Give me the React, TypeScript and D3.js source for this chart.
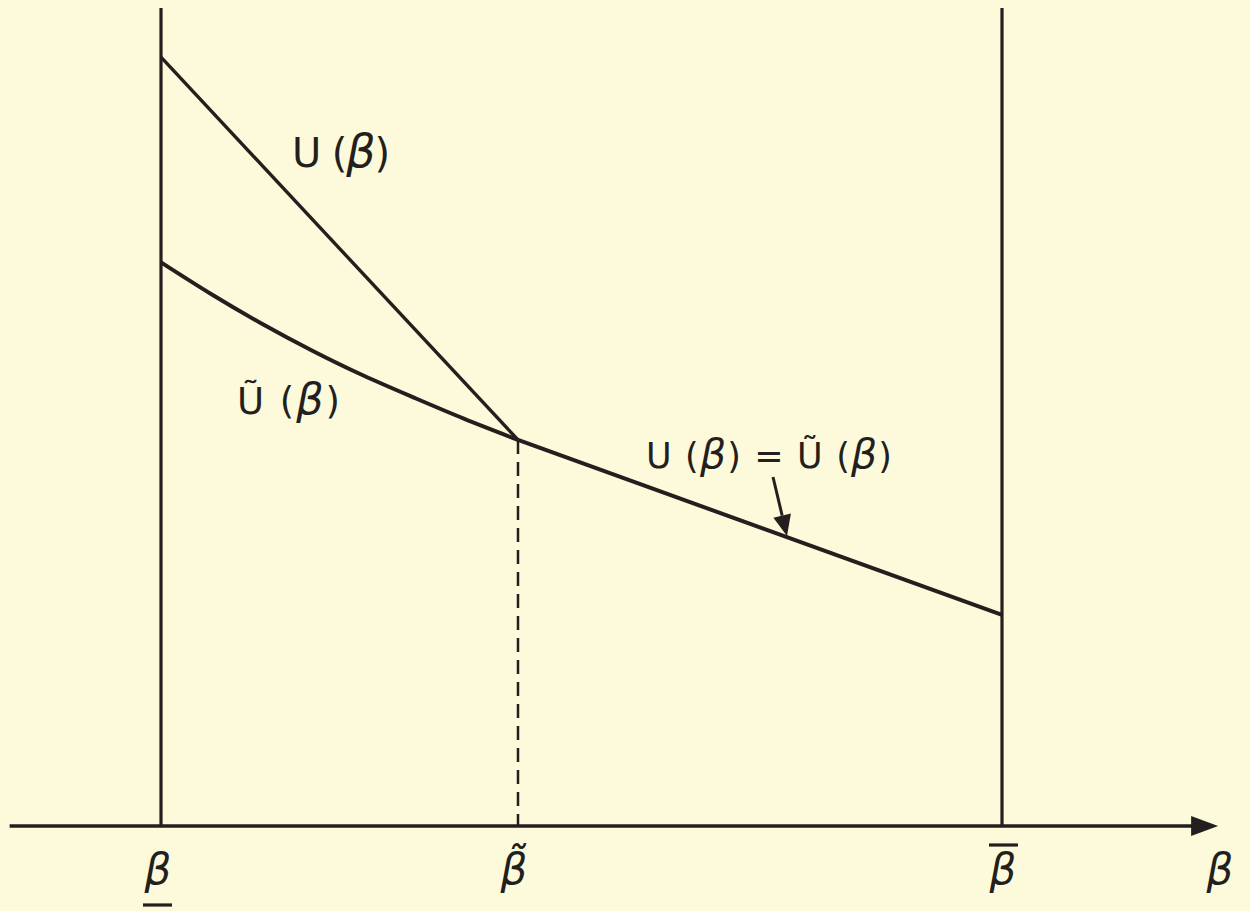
import React from "react";
import * as d3 from "d3";

// beta runs from the lower bound (0) to the upper bound (1)
const betaLow = 0;
const betaHigh = 1;
const betaTilde = 0.4245;

// U(beta): straight line from the lower bound to beta-tilde
const uBeta = [0, 0.4245];
const uValue = [0.94, 0.472];

// U-tilde(beta): convex curve up to beta-tilde, then straight to the upper bound
const uTildeBeta = [0, 0.06, 0.12, 0.18, 0.24, 0.3, 0.36, 0.4245];
const uTildeValue = [0.689, 0.65, 0.614, 0.581, 0.551, 0.524, 0.498, 0.472];
const tailBeta = [0.4245, 1];
const tailValue = [0.472, 0.258];

const W = 1250;
const H = 911;
const ink = "#231f1e";
const bg = "#fdfadb";
const font = "'DejaVu Sans', sans-serif";

const App = () => {
  const x = d3.scaleLinear().domain([betaLow, betaHigh]).range([161, 1002]);
  const y = d3.scaleLinear().domain([0, 1]).range([826, 8]);

  const toPts = (xs: number[], ys: number[]) => xs.map((b, i) => [b, ys[i]] as [number, number]);

  const curve = d3
    .line<[number, number]>()
    .x((d) => x(d[0]))
    .y((d) => y(d[1]))
    .curve(d3.curveNatural);
  const straight = d3
    .line<[number, number]>()
    .x((d) => x(d[0]))
    .y((d) => y(d[1]));

  const axisY = y(0);
  const axisStart = x(-0.18);
  const axisEnd = x(1.257);

  // arrow pointing at the common segment
  const arrowFrom: [number, number] = [773, 477];
  const arrowTo: [number, number] = [787, 536];
  const ang = Math.atan2(arrowTo[1] - arrowFrom[1], arrowTo[0] - arrowFrom[0]);
  const headLen = 21;
  const headHalf = 9;
  const bx = arrowTo[0] - headLen * Math.cos(ang);
  const by = arrowTo[1] - headLen * Math.sin(ang);
  const head = [
    [arrowTo[0], arrowTo[1]],
    [bx + headHalf * Math.sin(ang), by - headHalf * Math.cos(ang)],
    [bx - headHalf * Math.sin(ang), by + headHalf * Math.cos(ang)],
  ];

  const beta = (size: number) => (
    <tspan fontStyle="italic" fontSize={size}>
      β
    </tspan>
  );

  return (
    <svg
      width={W}
      height={H}
      style={{ position: "fixed", left: 0, top: 0, background: bg, fontFamily: font }}
    >
      <rect width={W} height={H} fill={bg} />

      {/* bounds */}
      <line x1={x(betaLow)} x2={x(betaLow)} y1={y(1)} y2={axisY} stroke={ink} strokeWidth={3.2} />
      <line x1={x(betaHigh)} x2={x(betaHigh)} y1={y(1)} y2={axisY} stroke={ink} strokeWidth={3.2} />

      {/* beta-tilde dashed drop line */}
      <line
        x1={x(betaTilde)}
        x2={x(betaTilde)}
        y1={y(tailValue[0])}
        y2={axisY}
        stroke={ink}
        strokeWidth={2.5}
        strokeDasharray="14 8"
      />

      {/* axis */}
      <line x1={axisStart} x2={axisEnd - 20} y1={axisY} y2={axisY} stroke={ink} strokeWidth={3.4} />
      <path
        d={`M${axisEnd},${axisY} L${axisEnd - 27},${axisY - 10} L${axisEnd - 27},${axisY + 10} Z`}
        fill={ink}
      />

      {/* curves */}
      <path d={straight(toPts(uBeta, uValue)) || ""} fill="none" stroke={ink} strokeWidth={3.4} />
      <path d={curve(toPts(uTildeBeta, uTildeValue)) || ""} fill="none" stroke={ink} strokeWidth={4} />
      <path d={straight(toPts(tailBeta, tailValue)) || ""} fill="none" stroke={ink} strokeWidth={4} />

      {/* annotation arrow */}
      <line x1={arrowFrom[0]} y1={arrowFrom[1]} x2={bx} y2={by} stroke={ink} strokeWidth={3} />
      <path d={`M${head.map((p) => p.join(",")).join("L")}Z`} fill={ink} />

      {/* curve labels */}
      <text x={292} y={167} fontSize={40} fill={ink} textLength={98} lengthAdjust="spacing">
        U ({beta(46)})
      </text>
      <text x={237} y={414} fontSize={37} fill={ink} textLength={103} lengthAdjust="spacing">
        Ũ ({beta(43)})
      </text>
      <text x={646} y={468} fontSize={35} fill={ink} textLength={246} lengthAdjust="spacing">
        U ({beta(41)}) = Ũ ({beta(41)})
      </text>

      {/* axis labels */}
      <g fontSize={42} fill={ink} fontStyle="italic" textAnchor="middle">
        <text x={158} y={884}>β</text>
        <text x={514} y={884}>β̃</text>
        <text x={1003} y={884}>β</text>
        <text x={1220} y={884}>β</text>
      </g>
      <line x1={143} x2={172} y1={905} y2={905} stroke={ink} strokeWidth={3.2} />
      <line x1={989} x2={1018} y1={845} y2={845} stroke={ink} strokeWidth={3.2} />
    </svg>
  );
};

export default App;
